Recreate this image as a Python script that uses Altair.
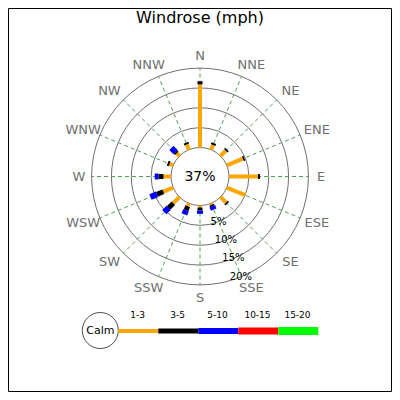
import altair as alt
import pandas as pd

# ---------------- data ----------------
title_text = "Windrose (mph)"
directions = ["N", "NNE", "NE", "ENE", "E", "ESE", "SE", "SSE",
              "S", "SSW", "SW", "WSW", "W", "WNW", "NW", "NNW"]
speed_bins = ["1-3", "3-5", "5-10", "10-15", "15-20"]
bin_colors = ["#ffa500", "#000000", "#0000ff", "#ff0000", "#00ff00"]
bin_widths = [4, 8, 12, 16, 20]

pct_1_3 = [15.9, 1.3, 1.9, 4.4, 7.3, 5.0, 2.0, 0.4, 0.5, 0.8, 2.2, 2.7, 1.9, 1.0, 1.0, 1.4]
pct_3_5 = [0.8, 0.5, 0.4, 0.4, 0.5, 0.0, 0.4, 0.4, 0.8, 1.1, 1.7, 1.75, 1.25, 0.5, 0.4, 0.5]
pct_5_10 = [0, 0, 0, 0, 0, 0, 0, 0.9, 0.8, 1.1, 1.5, 1.75, 0.95, 0, 1.5, 0]
pct_10_15 = [0] * 16
pct_15_20 = [0] * 16
calm_pct = 37
ring_pcts = [0, 5, 10, 15, 20]
ring_labels = [5, 10, 15, 20]

# ---------------- geometry (pixel units) ----------------
W = 384
R0 = 29.0      # radius of calm circle
K = 3.97       # px per percent
RMAX = R0 + K * 20
YMAX = 168.5
XS = alt.Scale(domain=[-W / 2, W / 2], nice=False, zero=False)
YS = alt.Scale(domain=[YMAX - W, YMAX], nice=False, zero=False)
FONT = "DejaVu Sans"


def X(f="x"):
    return alt.X(f"{f}:Q", scale=XS, axis=None)


def Y(f="y"):
    return alt.Y(f"{f}:Q", scale=YS, axis=None)


series = [pct_1_3, pct_3_5, pct_5_10, pct_10_15, pct_15_20]
rows = []
for bi, (b, vals) in enumerate(zip(speed_bins, series)):
    for di, d in enumerate(directions):
        rows.append({"dir": d, "dir_idx": di, "bin": b, "bin_idx": bi, "pct": vals[di]})
bars_df = pd.DataFrame(rows)
dir_df = pd.DataFrame({"dir": directions, "dir_idx": list(range(16))})
ring_df = pd.DataFrame({"p": ring_pcts})
ringlab_df = pd.DataFrame({"p": ring_labels, "label": [f"{p}%" for p in ring_labels]})
legend_df = pd.DataFrame({"bin": speed_bins, "bin_idx": list(range(5))})

# frame
frame = alt.Chart(pd.DataFrame({"k": [0]})).transform_calculate(
    x=f"{-W / 2 + 0.5}", x2=f"{W / 2 - 0.5}", y=f"{YMAX - W + 0.5}", y2=f"{YMAX - 0.5}"
).mark_rect(fill=None, stroke="black", strokeWidth=1).encode(
    x=X(), y=Y(), x2="x2:Q", y2="y2:Q")

# spokes
spokes = alt.Chart(dir_df).transform_calculate(
    th="datum.dir_idx*PI/8",
    x=f"{R0}*sin(datum.th)", y=f"{R0}*cos(datum.th)",
    x2=f"{RMAX}*sin(datum.th)", y2=f"{RMAX}*cos(datum.th)",
).mark_rule(color="#4fa34f", strokeWidth=1, strokeDash=[4, 3]).encode(
    x=X(), y=Y(), x2="x2:Q", y2="y2:Q")

# rings
rings = alt.Chart(ring_df).transform_calculate(
    x="0", y="0", s=f"pow(2*({R0}+{K}*datum.p),2)"
).mark_point(shape="circle", filled=False, color="#707070", strokeWidth=1, opacity=1).encode(
    x=X(), y=Y(), size=alt.Size("s:Q", scale=None, legend=None))

# bars
bars = alt.Chart(bars_df).transform_window(
    cum_end="sum(pct)", groupby=["dir_idx"], sort=[alt.SortField("bin_idx")], frame=[None, 0]
).transform_filter("datum.pct > 0").transform_calculate(
    th="datum.dir_idx*PI/8",
    r1=f"{R0}+{K}*(datum.cum_end-datum.pct)",
    r2=f"{R0}+{K}*datum.cum_end",
    x="datum.r1*sin(datum.th)", y="datum.r1*cos(datum.th)",
    x2="datum.r2*sin(datum.th)", y2="datum.r2*cos(datum.th)",
).mark_rule(strokeCap="butt").encode(
    x=X(), y=Y(), x2="x2:Q", y2="y2:Q",
    color=alt.Color("bin:N", scale=alt.Scale(domain=speed_bins, range=bin_colors), legend=None),
    strokeWidth=alt.StrokeWidth("bin:N", scale=alt.Scale(domain=speed_bins, range=bin_widths), legend=None),
)

# compass labels
compass = alt.Chart(dir_df).transform_calculate(
    th="datum.dir_idx*PI/8",
    push="datum.dir_idx % 4 == 0 ? 0 : (sin(datum.th) > 0 ? 5 : -5)",
    x="121*sin(datum.th) + datum.push", y="121*cos(datum.th)",
).mark_text(font=FONT, fontSize=13, color="#707070", align="center", baseline="middle").encode(
    x=X(), y=Y(), text="dir:N")

# ring percentage labels
ringlabs = alt.Chart(ringlab_df).transform_calculate(
    th="157.8*PI/180", r=f"{R0}+{K}*datum.p",
    x="datum.r*sin(datum.th)", y="datum.r*cos(datum.th)",
).mark_text(font=FONT, fontSize=10, color="black", align="center", baseline="middle").encode(
    x=X(), y=Y(), text="label:N")

# calm text
calm_df = pd.DataFrame({"label": [f"{calm_pct}%"]})
calm = alt.Chart(calm_df).transform_calculate(x="0", y="0").mark_text(
    font=FONT, fontSize=14, color="black", align="center", baseline="middle").encode(
    x=X(), y=Y(), text="label:N")

# title
title_df = pd.DataFrame({"label": [title_text]})
title = alt.Chart(title_df).transform_calculate(x="0", y="158.5").mark_text(
    font=FONT, fontSize=16, color="black", align="center", baseline="middle").encode(
    x=X(), y=Y(), text="label:N")

# legend
leg_calm_circle = alt.Chart(pd.DataFrame({"label": ["Calm"]})).transform_calculate(
    x="-99.7", y="-154", s="pow(36,2)"
).mark_point(shape="circle", filled=False, color="#222", strokeWidth=0.8, opacity=1).encode(
    x=X(), y=Y(), size=alt.Size("s:Q", scale=None, legend=None))
leg_calm_text = alt.Chart(pd.DataFrame({"label": ["Calm"]})).transform_calculate(
    x="-99.7", y="-154").mark_text(
    font=FONT, fontSize=11, color="black", align="center", baseline="middle").encode(
    x=X(), y=Y(), text="label:N")
leg_bars = alt.Chart(legend_df).transform_calculate(
    x="-81.7+40*datum.bin_idx", x2="-41.7+40*datum.bin_idx", y="-154.5"
).mark_rule(strokeCap="butt").encode(
    x=X(), y=Y(), x2="x2:Q",
    color=alt.Color("bin:N", scale=alt.Scale(domain=speed_bins, range=bin_colors), legend=None),
    strokeWidth=alt.StrokeWidth("bin:N", scale=alt.Scale(domain=speed_bins, range=bin_widths), legend=None),
)
leg_labels = alt.Chart(legend_df).transform_calculate(
    x="-62.5+40*datum.bin_idx", y="-138.5"
).mark_text(font=FONT, fontSize=9, color="black", align="center", baseline="middle").encode(
    x=X(), y=Y(), text="bin:N")

chart = alt.layer(
    frame, spokes, rings, bars, compass, ringlabs, calm, title,
    leg_calm_circle, leg_calm_text, leg_bars, leg_labels
).properties(
    width=W, height=W, padding=0, autosize=alt.AutoSizeParams(type="none"),
    background="white"
).configure_view(stroke=None)

chart.save("out.html", embed_options={"renderer": "svg", "actions": False})
